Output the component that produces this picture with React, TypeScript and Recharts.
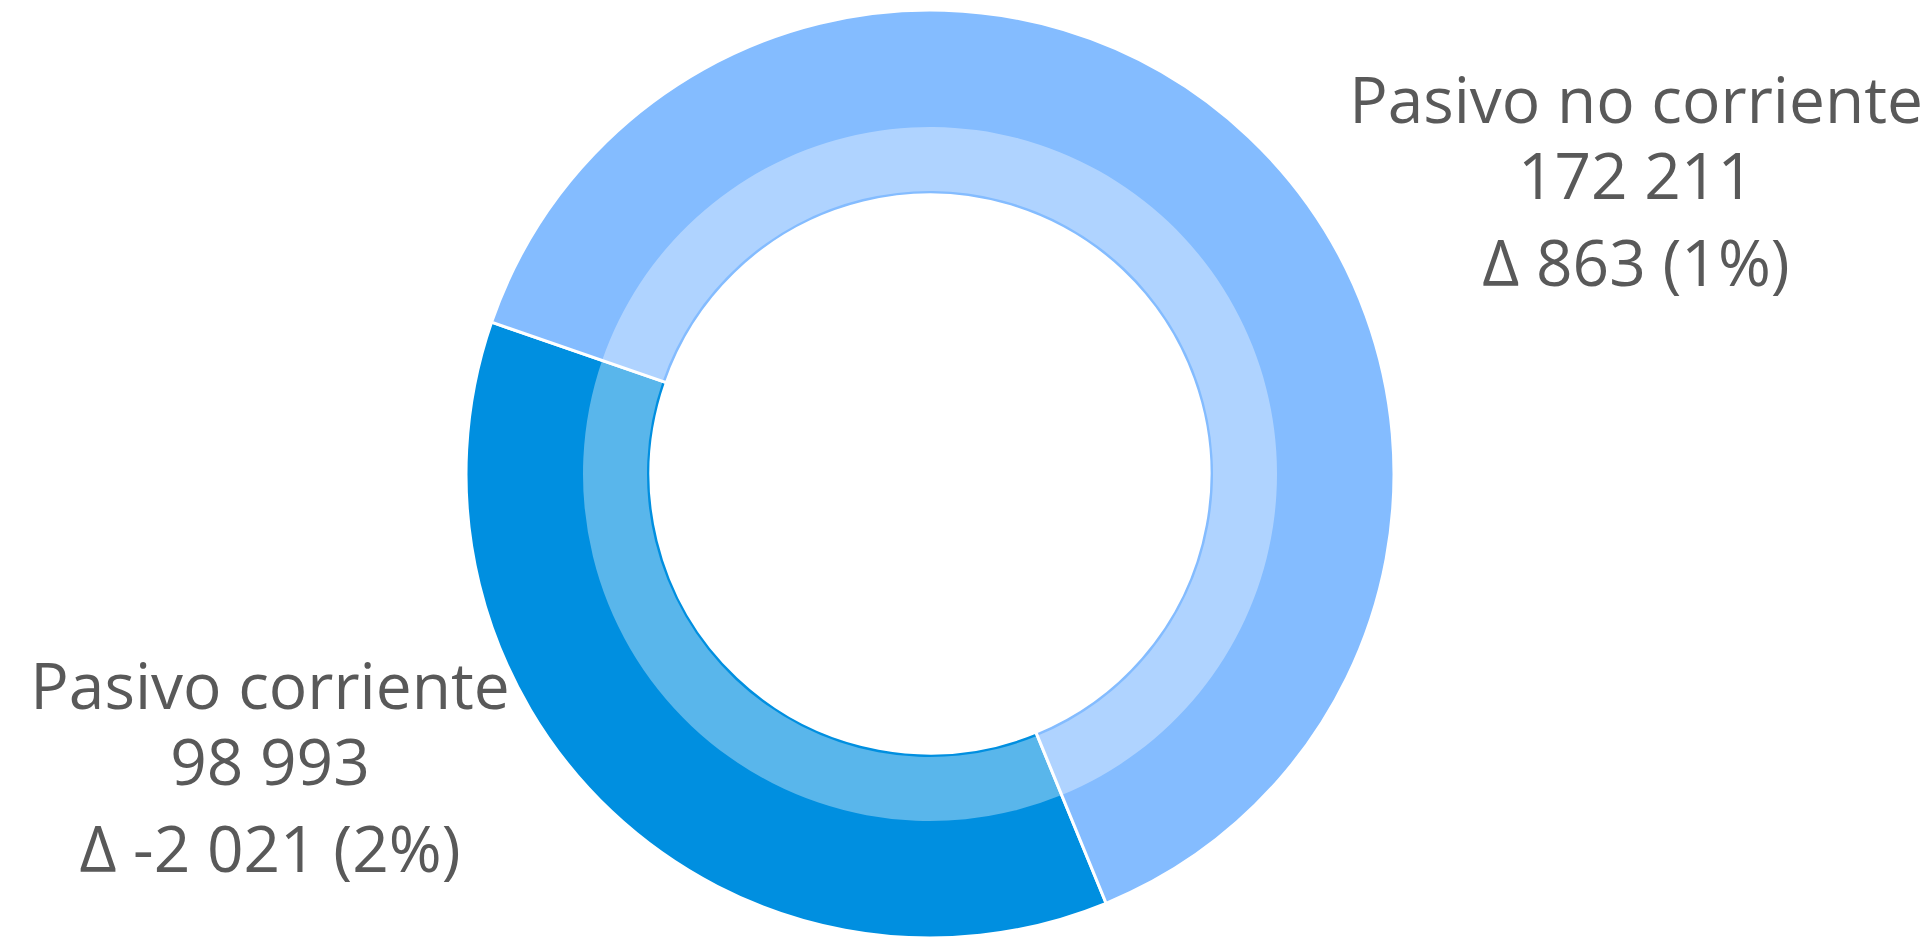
import React from 'react';
import { PieChart, Pie, Cell } from 'recharts';

const categories = ['Pasivo corriente', 'Pasivo no corriente'];
const values = [98993, 172211];
const deltas = [-2021, 863];
const deltaPcts = [2, 1];

const colors = ['#008FE0', '#84BCFF'];

// where each label block sits (first baseline, centre x)
const labelPos = [
  { x: 270, y: 709 },
  { x: 1636, y: 123 },
];

const fmt = (n: number) => {
  const s = Math.abs(n).toString().replace(/\B(?=(\d{3})+(?!\d))/g, ' ');
  return (n < 0 ? '-' : '') + s;
};

const data = categories.map((name, i) => ({
  name,
  value: values[i],
  delta: deltas[i],
  pct: deltaPcts[i],
}));

const textStyle = {
  textAnchor: 'middle' as const,
  fill: '#595959',
  fontFamily: "'Open Sans', sans-serif",
  fontSize: 64,
};

const renderLabel = (props: any) => {
  const { index, payload } = props;
  const p = labelPos[index];
  const d = payload.payload ?? payload;
  return (
    <g>
      <text x={p.x} y={p.y} {...textStyle}>{d.name}</text>
      <text x={p.x} y={p.y + 76} {...textStyle}>{fmt(d.value)}</text>
      <text x={p.x} y={p.y + 163} {...textStyle}>{`Δ ${fmt(d.delta)} (${d.pct}%)`}</text>
    </g>
  );
};

export default function App() {
  return (
    <div style={{ position: 'absolute', left: 0, top: 0, background: '#fff' }}>
      <PieChart width={1927} height={937} margin={{ top: 0, right: 0, bottom: 0, left: 0 }}>
        <Pie
          data={data}
          dataKey="value"
          cx={930}
          cy={474}
          innerRadius={279}
          outerRadius={464}
          startAngle={160.9}
          endAngle={520.9}
          stroke="#fff"
          strokeWidth={3}
          label={renderLabel}
          labelLine={false}
          isAnimationActive={false}
        >
          {data.map((d, i) => (
            <Cell key={d.name} fill={colors[i]} />
          ))}
        </Pie>
        <Pie
          data={data}
          dataKey="value"
          cx={930}
          cy={474}
          innerRadius={283}
          outerRadius={347}
          startAngle={160.9}
          endAngle={520.9}
          fill="#fff"
          fillOpacity={0.35}
          stroke="none"
          isAnimationActive={false}
        />
      </PieChart>
    </div>
  );
}
